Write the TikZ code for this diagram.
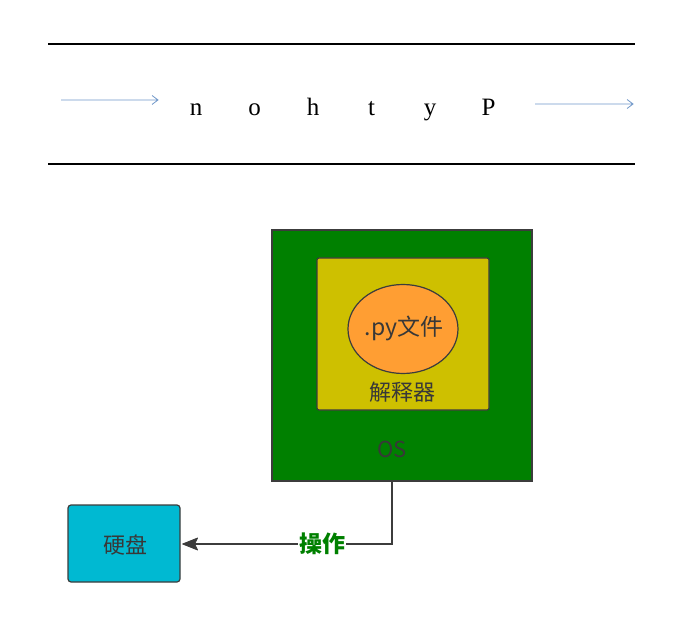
\documentclass[tikz,border=0pt]{standalone}
\usepackage{fontspec}
\setmainfont{Noto Sans CJK SC}
\newfontfamily\letterfont{Liberation Serif}
\usetikzlibrary{shapes.geometric}
\definecolor{osgreen}{RGB}{0,128,0}
\definecolor{interpyellow}{RGB}{206,192,0}
\definecolor{fileorange}{RGB}{255,158,51}
\definecolor{diskcyan}{RGB}{0,185,210}
\definecolor{edgegray}{RGB}{60,60,60}
\definecolor{arrowblue}{RGB}{110,150,200}
\begin{document}
\begin{tikzpicture}[x=1pt, y=-1pt,
  rule/.style={line width=2pt},
  flow/.style={draw=arrowblue, line width=0.8pt},
  letter/.style={anchor=base, font=\letterfont\fontsize{25}{25}\selectfont},
  box/.style={draw=edgegray, line width=1.2pt, inner sep=0pt},
  lbl/.style={font=\fontsize{22}{22}\selectfont, text=black!78},
  arr/.style={draw=edgegray, line width=1.4pt},
  dart/.style={fill=edgegray, draw=edgegray, line width=0.8pt, line join=round}
]
\useasboundingbox (0,0) rectangle (691,631);
% reversed word between two rules
\coordinate (rl1) at (48,44);
\coordinate (rr1) at (635,44);
\coordinate (rl2) at (48,164);
\coordinate (rr2) at (635,164);
\draw[rule] (rl1) -- (rr1);
\draw[rule] (rl2) -- (rr2);
\coordinate (al) at (61,100);
\coordinate (ar) at (158,100);
\coordinate (bl) at (535,104);
\coordinate (br) at (633,104);
\draw[flow] (al) -- (ar) ++(-6,-4.5) -- (ar) -- ++(-6,4.5);
\draw[flow] (bl) -- (br) ++(-6,-4.5) -- (br) -- ++(-6,4.5);
\foreach \c [count=\i] in {n,o,h,t,y,P}
  \node[letter] (l\i) at (196+58.5*\i-58.5,116) {\c};
% nested boxes
\node[box, fill=osgreen, minimum width=260pt, minimum height=251pt] (os) at (402,355.5) {};
\node[box, fill=interpyellow, rounded corners=2pt, minimum width=172pt, minimum height=152pt] (interp) at (403,334) {};
\node[box, ellipse, fill=fileorange, minimum width=110pt, minimum height=89pt] (file) at (403,329) {};
\node[lbl, font=\fontsize{23}{23}\selectfont] at (404,328) {.py文件};
\node[lbl] (interpl) at (402,392) {解释器};
\node[lbl] (osl) at (392,449) {OS};
\node[box, fill=diskcyan, rounded corners=3pt, minimum width=112pt, minimum height=77pt] (disk) at (124,543.5) {};
\node[lbl] at (125,545) {硬盘};
\coordinate (bend) at (392,544);
\coordinate (tip) at ([xshift=2pt]disk.east |- bend);
\draw[arr] (os.south -| bend) -- (bend) -- ([xshift=10pt]tip)
  node[pos=0.35, fill=white, inner sep=1pt, font=\bfseries\fontsize{23}{23}\selectfont, text=osgreen] (op) {操作};
\draw[dart] (tip) -- ++(15,-6) -- ++(-3,6) -- ++(3,6) -- cycle;
\end{tikzpicture}
\end{document}
